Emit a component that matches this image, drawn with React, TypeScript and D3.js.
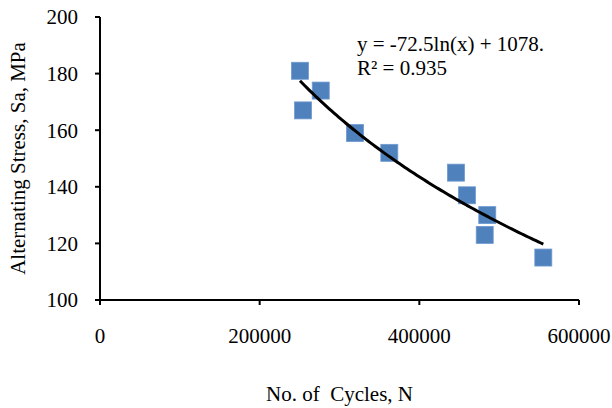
import React from "react";
import * as d3 from "d3";

const cycles = [250500, 276500, 254300, 319400, 362400, 445900, 459700, 485100, 481900, 555300];
const stress = [181, 174, 167, 159, 152, 145, 137, 130, 123, 115];
const xTicks = [0, 200000, 400000, 600000];
const yTicks = [100, 120, 140, 160, 180, 200];
const equationLines = ["y = -72.5ln(x) + 1078.", "R\u00B2 = 0.935"];
const xTitle = "No. of  Cycles, N";
const yTitle = "Alternating Stress, Sa, MPa";

export default function App() {
  const W = 612, H = 408;
  const x = d3.scaleLinear().domain([0, 600000]).range([100, 579]);
  const y = d3.scaleLinear().domain([100, 200]).range([300, 17]);
  const font = "'Liberation Serif', 'Times New Roman', serif";

  // logarithmic least-squares fit
  const lx = cycles.map((v) => Math.log(v));
  const mx = d3.mean(lx)!;
  const my = d3.mean(stress)!;
  let sxy = 0, sxx = 0;
  lx.forEach((v, i) => { sxy += (v - mx) * (stress[i] - my); sxx += (v - mx) * (v - mx); });
  const slope = sxy / sxx;
  const icpt = my - slope * mx;
  const [xmin, xmax] = d3.extent(cycles) as [number, number];
  const samples = d3.range(0, 101).map((i) => xmin + ((xmax - xmin) * i) / 100);
  const line = d3.line<number>().x((v) => x(v)).y((v) => y(icpt + slope * Math.log(v)));

  const sq = 17;
  return (
    <svg width={W} height={H} style={{ position: "absolute", left: 0, top: 0, background: "#fff" }} fontFamily={font}>
      {/* axes */}
      <line x1={x(0)} x2={x(600000)} y1={y(100)} y2={y(100)} stroke="#000" strokeWidth={2} />
      <line x1={x(0)} x2={x(0)} y1={y(100)} y2={y(200)} stroke="#000" strokeWidth={2} />
      {xTicks.map((t) => (
        <g key={"x" + t}>
          <line x1={x(t)} x2={x(t)} y1={y(100)} y2={y(100) + 5} stroke="#000" strokeWidth={2} />
          <text x={x(t)} y={343} textAnchor="middle" fontSize={21}>{t}</text>
        </g>
      ))}
      {yTicks.map((t) => (
        <g key={"y" + t}>
          <line x1={x(0) - 5} x2={x(0)} y1={y(t)} y2={y(t)} stroke="#000" strokeWidth={2} />
          <text x={78} y={y(t)} dy="0.35em" textAnchor="end" fontSize={21}>{t}</text>
        </g>
      ))}
      {/* markers */}
      {cycles.map((c, i) => (
        <rect key={i} x={x(c) - sq / 2} y={y(stress[i]) - sq / 2} width={sq} height={sq}
          fill="#4F81BD" stroke="#6f9ad0" strokeWidth={0.8} />
      ))}
      {/* trendline */}
      <path d={line(samples) || ""} fill="none" stroke="#000" strokeWidth={3} />
      {/* equation */}
      {equationLines.map((l, i) => (
        <text key={i} x={357} y={51 + i * 24} fontSize={21}>{l}</text>
      ))}
      {/* titles */}
      <text x={(x(0) + x(600000)) / 2} y={401} textAnchor="middle" fontSize={21} style={{ whiteSpace: "pre" }}>{xTitle}</text>
      <text transform={`translate(25, ${(y(100) + y(200)) / 2}) rotate(-90)`} textAnchor="middle" fontSize={21}>{yTitle}</text>
    </svg>
  );
}
